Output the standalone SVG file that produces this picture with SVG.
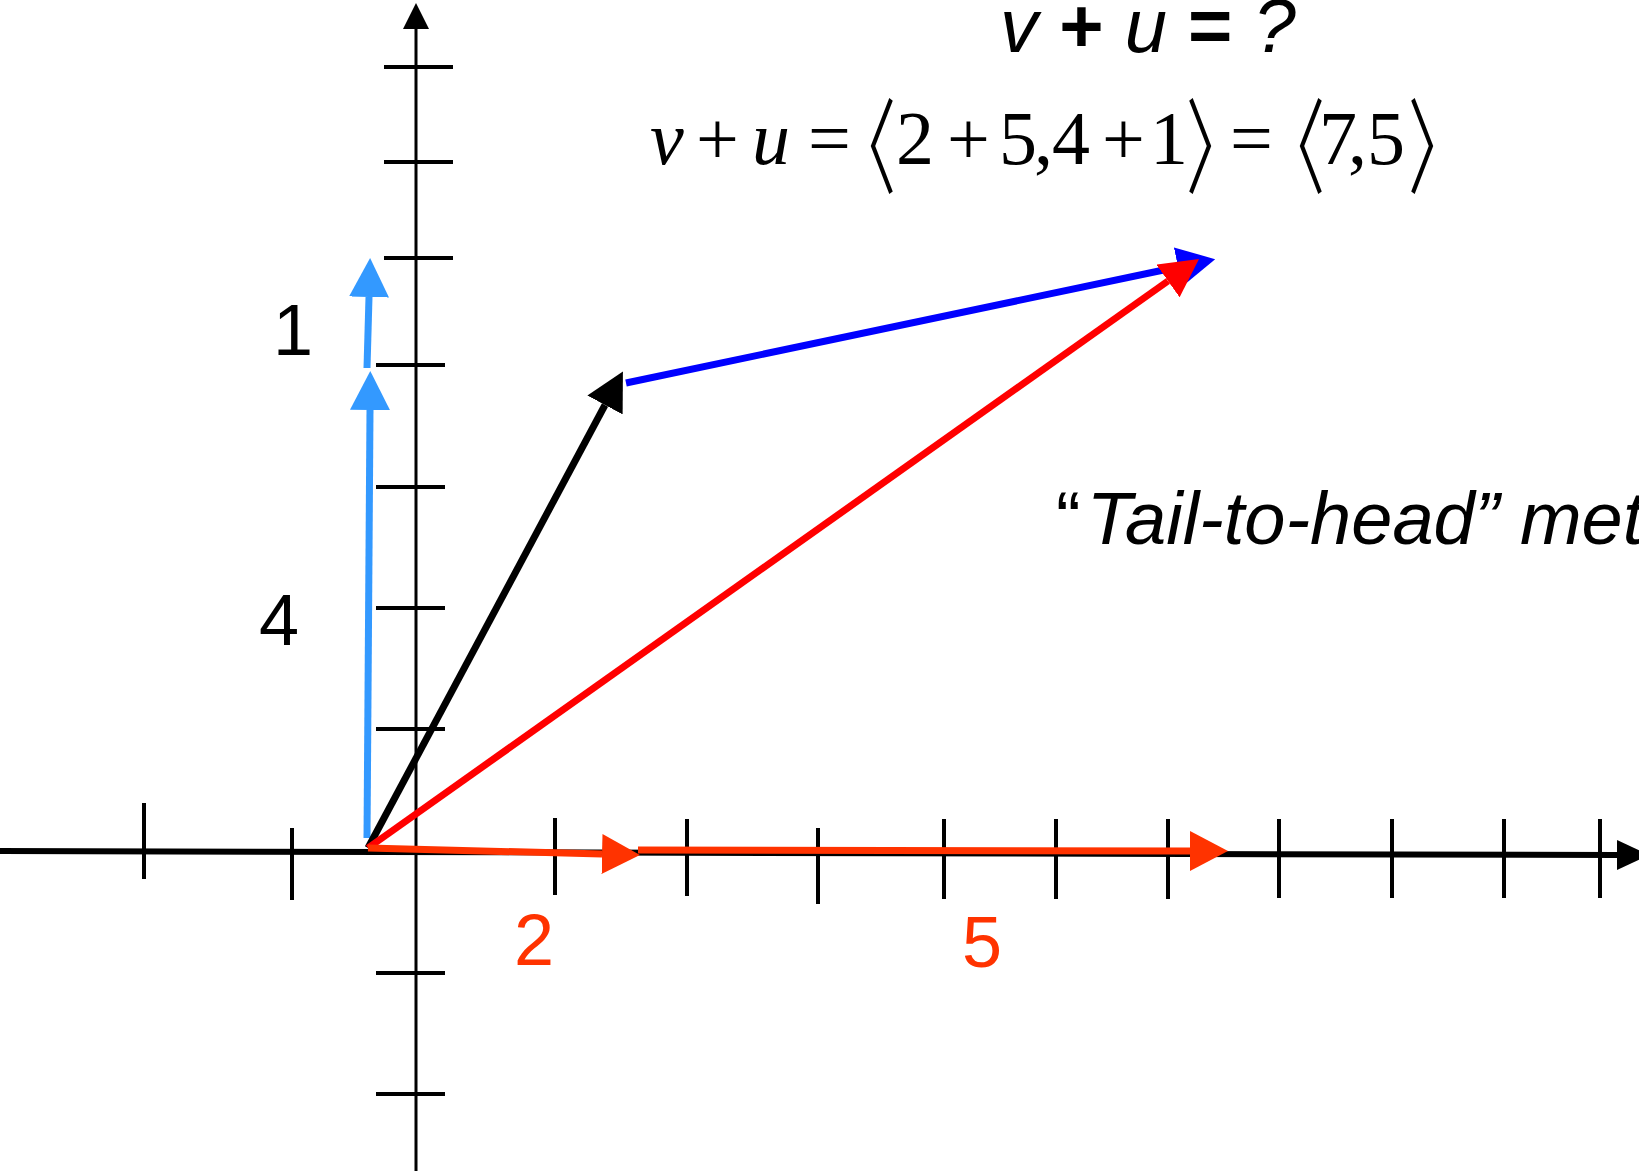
<svg xmlns="http://www.w3.org/2000/svg" width="1639" height="1171" viewBox="0 0 1639 1171">
<style>
.axis{stroke:#000;fill:none}
.tick{stroke:#000;stroke-width:4;fill:none}
.vec{fill:none;stroke-width:7;stroke-linecap:butt}
.sans{font-family:"Liberation Sans",Arial,sans-serif}
.serif{font-family:"Liberation Serif","Times New Roman",serif}
.br{font-family:"Noto Sans CJK SC",sans-serif;font-weight:350;font-size:100px}
</style>
<defs>
<marker id="hBlack" markerUnits="userSpaceOnUse" viewBox="0 0 38 40" refX="0" refY="20" markerWidth="38" markerHeight="40" orient="auto"><path d="M0,0 L38,20 L0,40 z" fill="#000"/></marker>
<marker id="hBlue" markerUnits="userSpaceOnUse" viewBox="0 0 38 40" refX="0" refY="20" markerWidth="38" markerHeight="40" orient="auto"><path d="M0,0 L38,20 L0,40 z" fill="#0000FF"/></marker>
<marker id="hRed" markerUnits="userSpaceOnUse" viewBox="0 0 38 40" refX="0" refY="20" markerWidth="38" markerHeight="40" orient="auto"><path d="M0,0 L38,20 L0,40 z" fill="#FF0000"/></marker>
<marker id="hOrange" markerUnits="userSpaceOnUse" viewBox="0 0 38 40" refX="0" refY="20" markerWidth="38" markerHeight="40" orient="auto"><path d="M0,0 L38,20 L0,40 z" fill="#FF3300"/></marker>
<marker id="hLight" markerUnits="userSpaceOnUse" viewBox="0 0 39 40" refX="0" refY="20" markerWidth="39" markerHeight="40" orient="auto"><path d="M0,0 L39,20 L0,40 z" fill="#3399FF"/></marker>
<marker id="hAxisX" markerUnits="userSpaceOnUse" viewBox="0 0 32 30" refX="0" refY="15" markerWidth="32" markerHeight="30" orient="auto"><path d="M0,0 L32,15 L0,30 z" fill="#000"/></marker>
<marker id="hAxisY" markerUnits="userSpaceOnUse" viewBox="0 0 26 26" refX="0" refY="13" markerWidth="26" markerHeight="26" orient="auto"><path d="M0,0 L26,13 L0,26 z" fill="#000"/></marker>
</defs>

<g id="axes">
<line class="axis" x1="0" y1="851" x2="1617" y2="855" stroke-width="6" marker-end="url(#hAxisX)"/>
<line class="axis" x1="416" y1="1171" x2="416" y2="29" stroke-width="3" marker-end="url(#hAxisY)"/>
</g>

<g id="x-ticks">
<line class="tick" x1="144" y1="803" x2="144" y2="879"/>
<line class="tick" x1="292" y1="828" x2="292" y2="900"/>
<line class="tick" x1="555" y1="818" x2="555" y2="895"/>
<line class="tick" x1="687" y1="819" x2="687" y2="896"/>
<line class="tick" x1="818" y1="828" x2="818" y2="904"/>
<line class="tick" x1="944" y1="819" x2="944" y2="899"/>
<line class="tick" x1="1056" y1="819" x2="1056" y2="899"/>
<line class="tick" x1="1168" y1="819" x2="1168" y2="899"/>
<line class="tick" x1="1279" y1="819" x2="1279" y2="898"/>
<line class="tick" x1="1392" y1="819" x2="1392" y2="898"/>
<line class="tick" x1="1504" y1="819" x2="1504" y2="898"/>
<line class="tick" x1="1600" y1="819" x2="1600" y2="898"/>
</g>

<g id="y-ticks">
<line class="tick" x1="384" y1="67" x2="453" y2="67"/>
<line class="tick" x1="384" y1="162" x2="453" y2="162"/>
<line class="tick" x1="384" y1="258" x2="453" y2="258"/>
<line class="tick" x1="376" y1="365" x2="445" y2="365"/>
<line class="tick" x1="376" y1="487" x2="445" y2="487"/>
<line class="tick" x1="376" y1="608" x2="445" y2="608"/>
<line class="tick" x1="376" y1="729" x2="445" y2="729"/>
<line class="tick" x1="376" y1="973" x2="445" y2="973"/>
<line class="tick" x1="376" y1="1094" x2="445" y2="1094"/>
</g>

<g id="connectors">
<line class="vec" x1="367" y1="838" x2="370" y2="410" stroke="#3399FF" stroke-width="8" marker-end="url(#hLight)"/>
<line class="vec" x1="367" y1="368" x2="369" y2="297" stroke="#3399FF" stroke-width="8" marker-end="url(#hLight)"/>
<line class="vec" x1="368" y1="848" x2="605" y2="405" stroke="#000" marker-end="url(#hBlack)"/>
<line class="vec" x1="626" y1="383" x2="1178" y2="267" stroke="#0000FF" marker-end="url(#hBlue)"/>
<line class="vec" x1="368" y1="848" x2="1168" y2="281" stroke="#FF0000" marker-end="url(#hRed)"/>
<line class="vec" x1="368" y1="848" x2="602" y2="854" stroke="#FF3300" marker-end="url(#hOrange)"/>
<line class="vec" x1="638" y1="850" x2="1190" y2="851" stroke="#FF3300" marker-end="url(#hOrange)"/>
</g>

<g id="labels">
<text class="sans" x="273" y="355" font-size="72" fill="#000">1</text>
<text class="sans" x="259" y="645" font-size="72" fill="#000">4</text>
<text class="sans" x="514" y="965" font-size="72" fill="#FF3300">2</text>
<text class="sans" x="962" y="967" font-size="72" fill="#FF3300">5</text>
</g>

<g id="title">
<text class="sans" x="1000" y="52" font-size="76" font-style="italic" fill="#000">v <tspan font-weight="bold" font-style="normal">+</tspan> u <tspan font-weight="bold" font-style="normal">=</tspan> ?</text>
</g>

<g id="formula" class="serif" font-size="76" fill="#000">
<text y="164"><tspan x="650" font-style="italic">v</tspan><tspan x="696">+</tspan><tspan x="752" font-style="italic">u</tspan><tspan x="808">=</tspan><tspan x="896">2</tspan><tspan x="947">+</tspan><tspan x="999">5</tspan><tspan x="1034">,</tspan><tspan x="1052">4</tspan><tspan x="1102">+</tspan><tspan x="1150">1</tspan><tspan x="1230">=</tspan><tspan x="1319">7</tspan><tspan x="1348">,</tspan><tspan x="1367">5</tspan></text>
<text class="br" transform="translate(834,186) scale(0.62,1.033)">〈</text>
<text class="br" transform="translate(1186,186) scale(0.62,1.033)">〉</text>
<text class="br" transform="translate(1263,186) scale(0.62,1.033)">〈</text>
<text class="br" transform="translate(1408,186) scale(0.62,1.033)">〉</text>
</g>

<g id="method">
<text class="sans" x="1056" y="544" font-size="74" fill="#000">“<tspan dx="6" font-style="italic">Tail-to-head” method</tspan></text>
</g>
</svg>
